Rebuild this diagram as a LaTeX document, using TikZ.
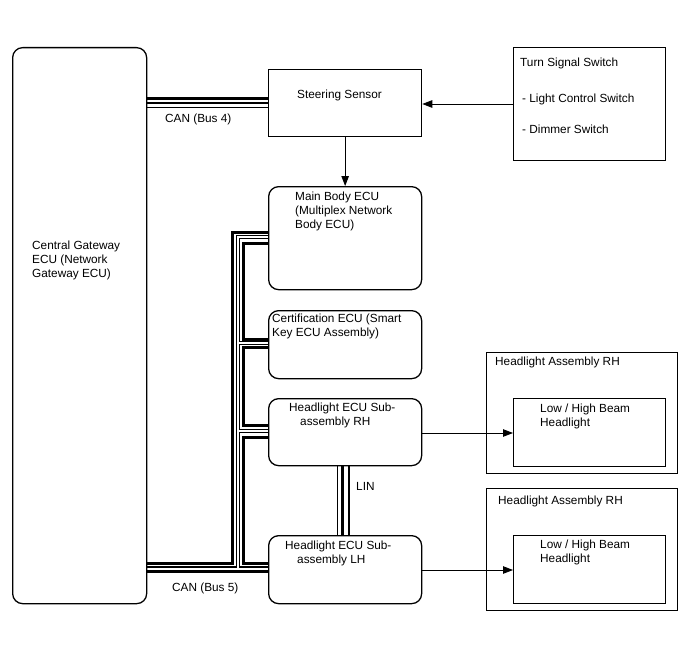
\documentclass[tikz,border=0pt]{standalone}
\usepackage{fontspec}
\setmainfont{Liberation Sans}
\usetikzlibrary{arrows.meta}
\begin{document}
\begin{tikzpicture}[x=1pt,y=-1pt,
  box/.style={draw, line width=1.3pt, anchor=north west, inner sep=0pt},
  rbox/.style={box, rounded corners=10pt},
  lbl/.style={anchor=north west, inner sep=0pt, align=left, font=\fontsize{11.8}{14}\selectfont},
  arr/.style={line width=0.9pt, -{Triangle[length=10pt,width=7.5pt]}},
  thk/.style={line width=3pt},
  thn/.style={line width=1.4pt},
]
\useasboundingbox[fill=white] (0,0) rectangle (688,658);

% boxes
\node[rbox, minimum width=134pt, minimum height=556pt] (gw) at (12,47) {};
\node[box, minimum width=153pt, minimum height=67pt] (ss) at (268,69) {};
\node[box, minimum width=152pt, minimum height=113pt] (ts) at (513,47) {};
\node[rbox, minimum width=153pt, minimum height=103pt] (mb) at (268,186) {};
\node[rbox, minimum width=153pt, minimum height=68pt] (ce) at (268,310) {};
\node[rbox, minimum width=153pt, minimum height=67pt] (rh) at (268,398) {};
\node[rbox, minimum width=153pt, minimum height=68pt] (lh) at (268,535) {};
\node[box, minimum width=191pt, minimum height=121pt] (ha1) at (486,352) {};
\node[box, minimum width=152pt, minimum height=68pt] (hb1) at (513,398) {};
\node[box, minimum width=191pt, minimum height=122pt] (ha2) at (486,488) {};
\node[box, minimum width=152pt, minimum height=68pt] (hb2) at (513,535) {};

% texts
\node[lbl] (tgw) at (32,240.5) {Central Gateway\\ECU (Network\\Gateway ECU)};
\node[lbl] (tss) at (297,89.5) {Steering Sensor};
\node[lbl] (tts1) at (520,57.5) {Turn Signal Switch};
\node[lbl] (tts2) at (522,93.5) {- Light Control Switch};
\node[lbl] (tts3) at (522,124.5) {- Dimmer Switch};
\node[lbl] (tmb) at (295,191.5) {Main Body ECU\\(Multiplex Network\\Body ECU)};
\node[lbl] (tce) at (272,313.5) {Certification ECU (Smart\\Key ECU Assembly)};
\node[lbl] (trh) at (289,402.5) {Headlight ECU Sub-\\\hspace*{11pt}assembly RH};
\node[lbl] (tlh) at (285,540.5) {Headlight ECU Sub-\\\hspace*{12pt}assembly LH};
\node[lbl] (tha1) at (495,356.5) {Headlight Assembly RH};
\node[lbl] (thb1) at (540,403.5) {Low / High Beam\\Headlight};
\node[lbl] (tha2) at (498,495.5) {Headlight Assembly RH};
\node[lbl] (thb2) at (540,539.5) {Low / High Beam\\Headlight};
\node[lbl] (tbus4) at (165,113.5) {CAN (Bus 4)};
\node[lbl] (tbus5) at (172,582.5) {CAN (Bus 5)};
\node[lbl] (tlin) at (356,482.5) {LIN};

% arrows
\draw[arr] (ts.west |- 0,104) -- (ss.east |- 0,104);
\draw[arr] (ss.south) -- (mb.north);
\draw[arr] (rh.east |- 0,433) -- (hb1.west |- 0,433);
\draw[arr] (lh.east |- 0,570) -- (hb2.west |- 0,570);

% CAN bus 4
\draw[thk] (gw.east |- 0,99) -- (ss.west |- 0,99);
\draw[thn] (gw.east |- 0,103) -- (ss.west |- 0,103);
\draw[thn] (gw.east |- 0,107.5) -- (ss.west |- 0,107.5);

% CAN bus 5
\draw[thk] (gw.east |- 0,563.5) -- (232,563.5) -- (232,232) -- (mb.west |- 0,232);
\draw[thn] (gw.east |- 0,567) -- (236.5,567) -- (236.5,235.5) -- (mb.west |- 0,235.5);
\draw[thn] (mb.west |- 0,238.5) -- (239.5,238.5) -- (239.5,341.5) -- (ce.west |- 0,341.5);
\draw[thn] (ce.west |- 0,344.5) -- (239.5,344.5) -- (239.5,429.5) -- (rh.west |- 0,429.5);
\draw[thn] (rh.west |- 0,432.5) -- (239.5,432.5) -- (239.5,567) -- (lh.west |- 0,567);
\draw[thk] (mb.west |- 0,243) -- (243,243) -- (243,339) -- (ce.west |- 0,339);
\draw[thk] (ce.west |- 0,347) -- (243,347) -- (243,425) -- (rh.west |- 0,425);
\draw[thk] (rh.west |- 0,437) -- (243,437) -- (243,563.5) -- (lh.west |- 0,563.5);
\draw[thk] (gw.east |- 0,571) -- (lh.west |- 0,571);

% LIN
\draw[thn] (rh.south -| 337.5,0) -- (lh.north -| 337.5,0);
\draw[thk] (rh.south -| 342.5,0) -- (lh.north -| 342.5,0);
\draw[thn] (rh.south -| 349,0) -- (lh.north -| 349,0);
\end{tikzpicture}
\end{document}
